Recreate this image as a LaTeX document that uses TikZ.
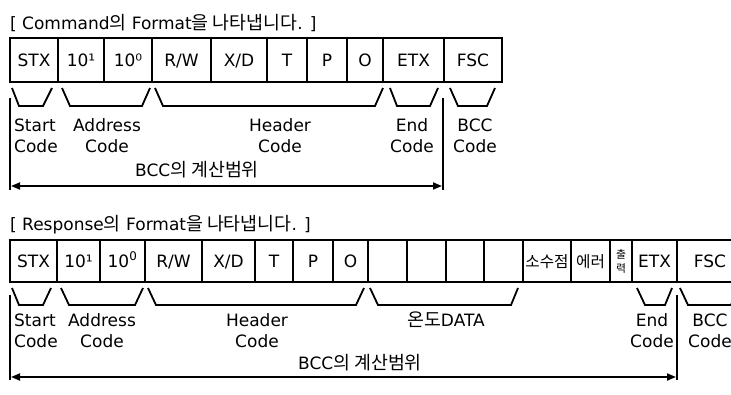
\documentclass[tikz,border=0pt]{standalone}
\usepackage{fontspec}
\setmainfont{DejaVu Sans}
\newfontfamily\kr[Scale=1.08]{Noto Sans CJK KR}
\usetikzlibrary{arrows.meta}

\tikzset{
  cellbox/.style={draw, line width=2pt, inner sep=0pt, outer sep=0pt},
  cell/.style={cellbox, text height=12pt, text depth=0pt},
  cmd/.style={cell, minimum height=44pt},
  rsp/.style={cell, minimum height=42pt},
  brk/.style={line width=1.8pt},
  bar/.style={line width=1.8pt},
  rng/.style={{Triangle[length=9pt,width=7pt]}-{Triangle[length=9pt,width=7pt]}, line width=1.8pt},
  lbl/.style={align=center, inner sep=0pt},
}

\begin{document}
\begin{tikzpicture}[x=1pt, y=-1pt, font=\fontsize{17}{21}\selectfont]
            \useasboundingbox (0,0) rectangle (731,394);

            % Command
            \node[anchor=base west, inner sep=0pt] (cmdtitle) at (10,29) {[ Command{\kr 의} Format{\kr 을 나타냅니다}. ]};

            \node[cmd, minimum width=48pt] (stx) at (34,60) {STX};
            \node[cmd, minimum width=46pt] (a1) at (81,60) {10¹};
            \node[cmd, minimum width=48pt] (a0) at (128,60) {10⁰};
            \node[cmd, minimum width=59pt] (rw) at (181.5,60) {R/W};
            \node[cmd, minimum width=56pt] (xd) at (239,60) {X/D};
            \node[cmd, minimum width=40pt] (t) at (287,60) {T};
            \node[cmd, minimum width=40pt] (p) at (327,60) {P};
            \node[cmd, minimum width=36pt] (o) at (365,60) {O};
            \node[cmd, minimum width=61pt] (etx) at (413.5,60) {ETX};
            \node[cmd, minimum width=58pt] (fsc) at (473,60) {FSC};

            % Parentesi
            \draw[brk] ([shift={(2,6)}]stx.south west) -- ++(7,18) -- ([shift={(-15,24)}]stx.south east) -- ++(9,-18);
            \draw[brk] ([shift={(4,6)}]a1.south west) -- ++(8,18) -- ([shift={(-10,24)}]a0.south east) -- ++(8,-18);
            \draw[brk] ([shift={(3,6)}]rw.south west) -- ++(8,18) -- ([shift={(-8,24)}]o.south east) -- ++(8,-18);
            \draw[brk] ([shift={(7,6)}]etx.south west) -- ++(7,18) -- ([shift={(-14,24)}]etx.south east) -- ++(8,-18);
            \draw[brk] ([shift={(6,6)}]fsc.south west) -- ++(8,18) -- ([shift={(-15,24)}]fsc.south east) -- ++(8,-18);

            \node[lbl, align=left, anchor=west] (start1) at (14,135.5) {Start\\Code};
            \node[lbl] (addr1) at (107,135.5) {Address\\Code};
            \node[lbl] (head1) at (280,135.5) {Header\\Code};
            \node[lbl] (end1) at (412,135.5) {End\\Code};
            \node[lbl] (bcc1) at (475,135.5) {BCC\\Code};
            \node[lbl] (calc1) at (197,170) {BCC{\kr 의 계산범위}};

            % Range
            \coordinate (l1top) at (10,98);
            \coordinate (l1bot) at (10,190);
            \coordinate (r1top) at (443,98);
            \coordinate (r1bot) at (443,190);
            \coordinate (l1) at (11,186);
            \coordinate (r1) at (442,186);
            \draw[bar] (l1top) -- (l1bot);
            \draw[bar] (r1top) -- (r1bot);
            \draw[rng] (l1) -- (r1);

            % Response
            \node[anchor=base west, inner sep=0pt] (rsptitle) at (10,230) {[ Response{\kr 의} Format{\kr 을 나타냅니다}. ]};

            \node[rsp, minimum width=47pt] (rstx) at (33.5,261) {STX};
            \node[rsp, minimum width=43pt] (ra1) at (78.5,261) {10¹};
            \node[rsp, minimum width=45pt] (ra0) at (122.5,261) {10\textsuperscript{0}};
            \node[rsp, minimum width=57pt] (rrw) at (173.5,261) {R/W};
            \node[rsp, minimum width=53pt] (rxd) at (228.5,261) {X/D};
            \node[rsp, minimum width=38pt] (rt) at (274,261) {T};
            \node[rsp, minimum width=40pt] (rp) at (313,261) {P};
            \node[rsp, minimum width=35pt] (ro) at (350.5,261) {O};
            \node[rsp, minimum width=39pt] (d1) at (387.5,261) {};
            \node[rsp, minimum width=39pt] (d2) at (426.5,261) {};
            \node[rsp, minimum width=38pt] (d3) at (465,261) {};
            \node[rsp, minimum width=39pt] (d4) at (503.5,261) {};
            \node[rsp, minimum width=48pt, font=\kr\fontsize{14.5}{18}\selectfont] (dot) at (547,261) {소수점};
            \node[rsp, minimum width=39pt, font=\kr\fontsize{14.5}{18}\selectfont] (err) at (590.5,261) {에러};
            \node[cellbox, minimum width=22pt, minimum height=42pt, align=center, font=\kr\fontsize{10}{14}\selectfont] (out) at (621,261) {출\\력};
            \node[rsp, minimum width=45pt] (retx) at (654.5,261) {ETX};
            \node[rsp, minimum width=66pt] (rfsc) at (710,261) {FSC};

            % Parentesi
            \draw[brk] ([shift={(2,6)}]rstx.south west) -- ++(7,17) -- ([shift={(-14,23)}]rstx.south east) -- ++(8,-17);
            \draw[brk] ([shift={(4,6)}]ra1.south west) -- ++(8,17) -- ([shift={(-10,23)}]ra0.south east) -- ++(8,-17);
            \draw[brk] ([shift={(3,6)}]rrw.south west) -- ++(8,17) -- ([shift={(-12,23)}]ro.south east) -- ++(8,-17);
            \draw[brk] ([shift={(2,6)}]d1.south west) -- ++(8,17) -- ([shift={(-12,23)}]d4.south east) -- ++(7,-17);
            \draw[brk] ([shift={(5,6)}]retx.south west) -- ++(8,17) -- ([shift={(-12,23)}]retx.south east) -- ++(7,-17);
            \draw[brk] ([shift={(3,6)}]rfsc.south west) -- ++(8,17) -- ([shift={(-12,23)}]rfsc.south east) -- ++(8,-17);

            \node[lbl, align=left, anchor=west] (start2) at (14,330.5) {Start\\Code};
            \node[lbl] (addr2) at (102,330.5) {Address\\Code};
            \node[lbl] (head2) at (257,330.5) {Header\\Code};
            \node[lbl] (data2) at (446,320) {{\kr 온도}DATA};
            \node[lbl] (end2) at (652,330.5) {End\\Code};
            \node[lbl] (bcc2) at (710,330.5) {BCC\\Code};
            \node[lbl] (calc2) at (360,363) {BCC{\kr 의 계산범위}};

            % Range
            \coordinate (l2top) at (10,295);
            \coordinate (l2bot) at (10,380);
            \coordinate (r2top) at (677,295);
            \coordinate (r2bot) at (677,380);
            \coordinate (l2) at (11,377);
            \coordinate (r2) at (676,377);
            \draw[bar] (l2top) -- (l2bot);
            \draw[bar] (r2top) -- (r2bot);
            \draw[rng] (l2) -- (r2);
\end{tikzpicture}
\end{document}
